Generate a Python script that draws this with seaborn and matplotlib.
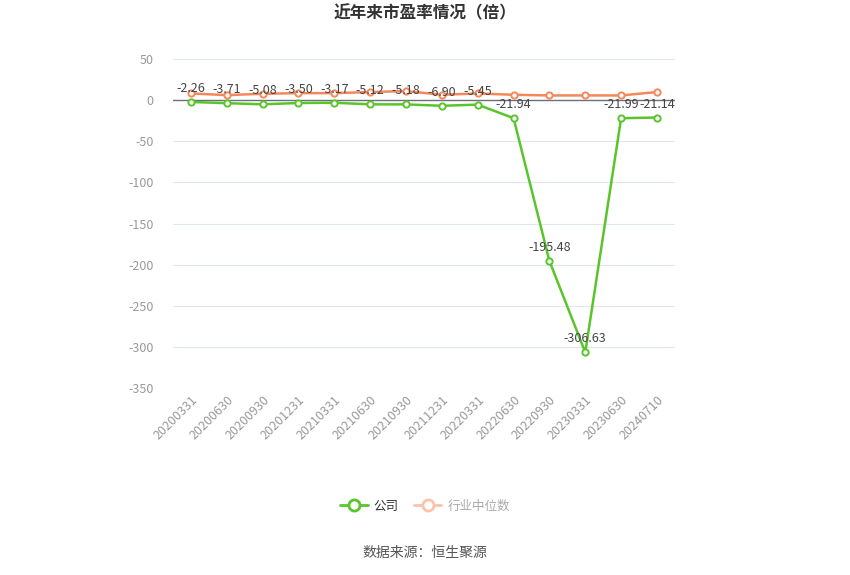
import pandas as pd
import seaborn as sns
import matplotlib.pyplot as plt
from matplotlib.lines import Line2D

dates = ["20200331", "20200630", "20200930", "20201231", "20210331", "20210630",
         "20210930", "20211231", "20220331", "20220630", "20220930", "20230331",
         "20230630", "20240710"]
company = [-2.26, -3.71, -5.08, -3.50, -3.17, -5.12, -5.18, -6.90, -5.45,
           -21.94, -195.48, -306.63, -21.99, -21.14]
industry = [8.1, 6.1, 7.7, 8.5, 8.5, 9.8, 11.0, 6.5, 8.1, 6.5, 5.7, 5.7, 5.7, 9.8]

green = "#5ac52b"
orange = "#f6875a"

sns.set_theme(style="white")
plt.rcParams["font.family"] = ["Noto Sans CJK SC", "DejaVu Sans"]
plt.rcParams["axes.unicode_minus"] = False

df = pd.DataFrame({"date": dates, "公司": company, "行业中位数": industry})
df["pos"] = range(len(df))

fig = plt.figure(figsize=(8.5, 5.75), dpi=100)
ax = fig.add_axes([0.2035, 0.3252, 0.5905, 0.5722])

ax.set_ylim(-350, 50)
ax.set_xlim(-0.5, len(dates) - 0.5)
for v in range(-350, 51, 50):
    if v != 0:
        ax.axhline(v, color="#e0e6f1", lw=0.8, zorder=0)
ax.axhline(0, color="#6e7079", lw=1, zorder=1)

sns.lineplot(data=df, x="pos", y="行业中位数", ax=ax, color=orange, lw=1.8,
             marker="o", markersize=4.5, markerfacecolor="white",
             markeredgecolor=orange, markeredgewidth=1.4, zorder=3)
sns.lineplot(data=df, x="pos", y="公司", ax=ax, color=green, lw=1.8,
             marker="o", markersize=4.5, markerfacecolor="white",
             markeredgecolor=green, markeredgewidth=1.4, zorder=4)

for i, v in enumerate(company):
    ax.annotate(f"{v:.2f}", (i, v), xytext=(0, 5), textcoords="offset points",
                ha="center", va="bottom", fontsize=9, color="#444444", zorder=5)

ax.set_xticks(range(len(dates)))
ax.set_xticklabels(dates, rotation=45, ha="right", rotation_mode="anchor",
                   fontsize=9, color="#999999")
ax.set_yticks(range(-350, 51, 50))
ax.tick_params(axis="y", labelsize=9, labelcolor="#999999", length=0, pad=14)
ax.tick_params(axis="x", length=0, pad=4)
ax.set_xlabel("")
ax.set_ylabel("")
for s in ax.spines.values():
    s.set_visible(False)

handles = [
    Line2D([], [], color=green, lw=2, marker="o", markersize=8,
           markerfacecolor="white", markeredgewidth=2),
    Line2D([], [], color="#fbc3ad", lw=2, marker="o", markersize=8,
           markerfacecolor="white", markeredgewidth=2),
]
leg = fig.legend(handles, ["公司", "行业中位数"], loc="center",
                 bbox_to_anchor=(0.5, 1 - 506 / 575), ncol=2, frameon=False,
                 fontsize=9, handlelength=2.2, columnspacing=1.2,
                 handletextpad=0.5)
leg.get_texts()[0].set_color("#333333")
leg.get_texts()[1].set_color("#aaaaaa")

fig.text(0.5, 1 - 13 / 575, "近年来市盈率情况（倍）", ha="center", va="center",
         fontsize=12, fontweight="bold", color="#333333")
fig.text(0.5, 1 - 553 / 575, "数据来源：恒生聚源", ha="center", va="center",
         fontsize=10, color="#555555")

fig.savefig("out.png", dpi=100)
